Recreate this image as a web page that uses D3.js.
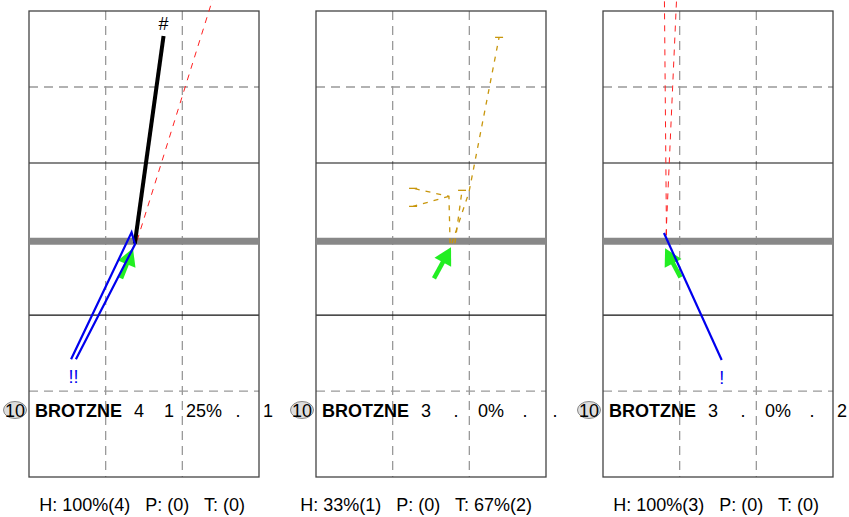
<!DOCTYPE html>
<html>
<head>
<meta charset="utf-8">
<title>Passing chart</title>
<style>body { margin: 0; background: #fff; }</style>
</head>
<body>
<svg id="svg"></svg>
<script src="https://cdn.jsdelivr.net/npm/d3@7"></script>
<script>
    // one panel per field zone, same QB in each
    const jerseys = ['10', '10', '10']
    const names = ['BROTZNE', 'BROTZNE', 'BROTZNE']
    const statLines = [
        ['4', '1', '25%', '.', '1'],
        ['3', '.', '0%', '.', '.'],
        ['3', '.', '0%', '.', '2']
    ]
    const summaries = [
        'H: 100%(4)   P: (0)   T: (0)',
        'H: 33%(1)   P: (0)   T: 67%(2)',
        'H: 100%(3)   P: (0)   T: (0)'
    ]

    // field grid: yards from line of scrimmage, field split in thirds (0..30)
    const yardLines = [20.3, 10.3, -9.7, -19.7]
    const yardLineKinds = ['dash', 'solid', 'solid', 'dash']
    const thirds = [10, 20]

    // dropback arrows [tail, tip]
    const dropbacks = [
        [[12.0, -4.87], [13.56, -0.92]],
        [[15.39, -4.87], [17.61, -0.79]],
        [[10.11, -4.74], [8.10, -0.92]]
    ]
    // completed deep throws (black)
    const deepThrows = [
        [[[13.8, -0.3], [17.55, 27.0]]],
        [],
        []
    ]
    const deepMarks = ['#', '', '']
    // targets not reached (red dashed)
    const missedRoutes = [
        [[[14.1, 0.1], [24.0, 32.0]]],
        [],
        [[[8.28, 0.79], [8.01, 31.97]], [[8.22, 0.79], [9.6, 31.97]]]
    ]
    // short throws (blue)
    const shortThrows = [
        [[[5.49, -15.52], [13.38, 1.18], [13.83, -0.39], [6.12, -15.52]]],
        [],
        [[[7.95, 1.09], [15.48, -15.6]]]
    ]
    const shortMarks = ['!!', '', '!']
    // thrown away (gold dashed)
    const thrownAway = [
        [],
        [
            [[17.73, -0.26], [19.95, 6.45], [23.88, 26.83]],
            [[18.12, -0.26], [19.05, 6.71]],
            [[17.49, -0.26], [17.34, 5.92], [12.66, 6.97]],
            [[17.34, 5.92], [12.66, 4.60]]
        ],
        []
    ]

    const WIDTH = 849
    const HEIGHT = 517
    const PANEL_W = 230
    const TOP = 11
    const BOTTOM = 477
    const panelLeft = [29, 316, 603]
    const statOffsets = [110, 140, 175, 209, 239]
    const FONT = "'Liberation Sans', Arial, sans-serif"

    const svg = d3.select('#svg')
        .attr('width', WIDTH)
        .attr('height', HEIGHT)
        .style('font-family', FONT)

    const x = d3.scaleLinear().domain([0, 30]).range([0, PANEL_W])
    const y = d3.scaleLinear().domain([-31, 30.3]).range([BOTTOM, TOP])
    const line = d3.line().x(d => x(d[0])).y(d => y(d[1]))

    panelLeft.forEach((left, i) => {
        const g = svg.append('g').attr('transform', `translate(${left},0)`)

        // grid
        g.selectAll('.third').data(thirds).enter().append('line')
            .attr('x1', d => x(d)).attr('x2', d => x(d))
            .attr('y1', TOP).attr('y2', BOTTOM)
            .attr('stroke', '#999').attr('stroke-width', 1.3)
            .attr('stroke-dasharray', '9,6')
        g.selectAll('.yard').data(yardLines).enter().append('line')
            .attr('x1', 0).attr('x2', PANEL_W)
            .attr('y1', d => y(d)).attr('y2', d => y(d))
            .attr('stroke', (d, k) => yardLineKinds[k] === 'dash' ? '#999' : '#111')
            .attr('stroke-width', (d, k) => yardLineKinds[k] === 'dash' ? 1.3 : 1.1)
            .attr('stroke-dasharray', (d, k) => yardLineKinds[k] === 'dash' ? '9,6' : null)
        g.append('rect')
            .attr('x', 0).attr('y', TOP)
            .attr('width', PANEL_W).attr('height', BOTTOM - TOP)
            .attr('fill', 'none').attr('stroke', '#444').attr('stroke-width', 1.3)

        // line of scrimmage
        g.append('line')
            .attr('x1', 0).attr('x2', PANEL_W)
            .attr('y1', y(0)).attr('y2', y(0))
            .attr('stroke', '#888').attr('stroke-width', 7)

        g.selectAll('.missed').data(missedRoutes[i]).enter().append('path')
            .attr('d', line).attr('fill', 'none')
            .attr('stroke', '#ff2020').attr('stroke-width', 1)
            .attr('stroke-dasharray', '6,6')

        g.selectAll('.away').data(thrownAway[i]).enter().append('path')
            .attr('d', line).attr('fill', 'none')
            .attr('stroke', '#c8960c').attr('stroke-width', 1.3)
            .attr('stroke-dasharray', '5,6')
        g.selectAll('.awayEnd').data(thrownAway[i]).enter().append('line')
            .attr('x1', d => x(d[d.length - 1][0]) - 4)
            .attr('x2', d => x(d[d.length - 1][0]) + 4)
            .attr('y1', d => y(d[d.length - 1][1]))
            .attr('y2', d => y(d[d.length - 1][1]))
            .attr('stroke', '#c8960c').attr('stroke-width', 1.3)

        // dropback arrow
        const [tail, tip] = dropbacks[i]
        const sx = x(tail[0]), sy = y(tail[1]), tx = x(tip[0]), ty = y(tip[1])
        const len = Math.hypot(tx - sx, ty - sy)
        const ux = (tx - sx) / len, uy = (ty - sy) / len
        const bx = tx - ux * 17, by = ty - uy * 17
        g.append('line')
            .attr('x1', sx).attr('y1', sy).attr('x2', bx + ux * 3).attr('y2', by + uy * 3)
            .attr('stroke', '#22ee22').attr('stroke-width', 4.5)
        g.append('polygon')
            .attr('points', [[tx, ty], [bx - uy * 9.5, by + ux * 9.5], [bx + uy * 9.5, by - ux * 9.5]].join(' '))
            .attr('fill', '#22ee22')

        g.selectAll('.deep').data(deepThrows[i]).enter().append('path')
            .attr('d', line).attr('fill', 'none')
            .attr('stroke', '#000').attr('stroke-width', 4)
        g.selectAll('.deepMark').data(deepThrows[i]).enter().append('text')
            .attr('x', d => x(d[d.length - 1][0]))
            .attr('y', d => y(d[d.length - 1][1]) - 6)
            .attr('text-anchor', 'middle').attr('font-size', 18)
            .text(deepMarks[i])

        g.selectAll('.short').data(shortThrows[i]).enter().append('path')
            .attr('d', line).attr('fill', 'none')
            .attr('stroke', '#0000ee').attr('stroke-width', 2.2)
            .attr('stroke-linejoin', 'miter')
        g.selectAll('.shortMark').data(shortThrows[i]).enter().append('text')
            .attr('x', d => {
                const low = d3.min(d, p => p[1])
                return x(d3.mean(d.filter(p => p[1] === low), p => p[0]))
            })
            .attr('y', d => y(d3.min(d, p => p[1])) + 24)
            .attr('text-anchor', 'middle').attr('font-size', 18)
            .attr('fill', '#0000ee')
            .text(shortMarks[i])

        // player row
        g.append('ellipse')
            .attr('cx', -14).attr('cy', 410).attr('rx', 11.5).attr('ry', 8.5)
            .attr('fill', '#ddd').attr('stroke', '#888').attr('stroke-width', 1)
        g.append('text')
            .attr('x', -14).attr('y', 416.5)
            .attr('text-anchor', 'middle').attr('font-size', 18)
            .text(jerseys[i])
        g.append('text')
            .attr('x', 6).attr('y', 416.5)
            .attr('font-size', 18).attr('font-weight', 'bold')
            .text(names[i])
        g.selectAll('.stat').data(statLines[i]).enter().append('text')
            .attr('x', (d, k) => statOffsets[k]).attr('y', 416.5)
            .attr('text-anchor', 'middle').attr('font-size', 18)
            .text(d => d)

        g.append('text')
            .attr('x', 216).attr('y', 511)
            .attr('text-anchor', 'end').attr('font-size', 18)
            .style('white-space', 'pre')
            .text(summaries[i])
    })
</script>
</body>
</html>
